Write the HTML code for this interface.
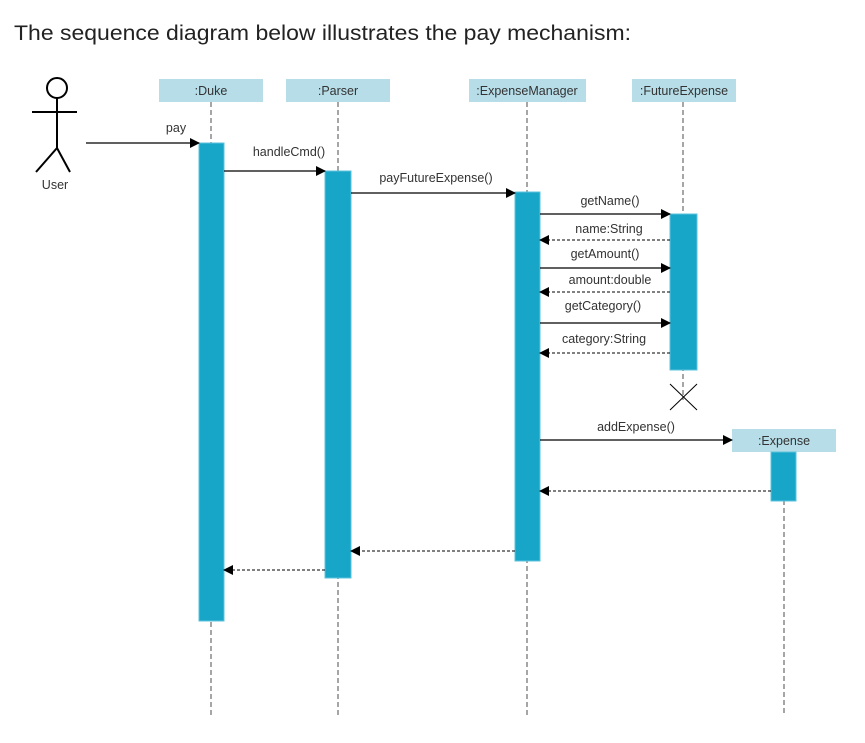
<!DOCTYPE html>
<html><head><meta charset="utf-8"><style>
html,body{margin:0;padding:0;background:#fff;width:865px;height:743px;overflow:hidden}
</style></head><body>
<svg width="865" height="743" xmlns="http://www.w3.org/2000/svg" font-family="Liberation Sans, sans-serif">
<defs>
<marker id="a" markerWidth="10" markerHeight="10" refX="9" refY="5" orient="auto" markerUnits="userSpaceOnUse"><path d="M0,0 L10,5 L0,10 z" fill="#000"/></marker>
</defs>
<text x="14" y="40" font-size="21" fill="#222" textLength="617" lengthAdjust="spacingAndGlyphs">The sequence diagram below illustrates the pay mechanism:</text>
<g stroke="#000" stroke-width="2" fill="none">
<circle cx="57" cy="88" r="10"/>
<line x1="57" y1="98" x2="57" y2="148"/>
<line x1="32" y1="112" x2="77" y2="112"/>
<line x1="57" y1="148" x2="36" y2="172"/>
<line x1="57" y1="148" x2="70" y2="172"/>
</g>
<text x="55" y="189" font-size="12.5" fill="#333" text-anchor="middle">User</text>
<g stroke="#888" stroke-width="1.5" stroke-dasharray="5,3">
<line x1="211" y1="102" x2="211" y2="716"/>
<line x1="338" y1="102" x2="338" y2="716"/>
<line x1="527" y1="102" x2="527" y2="716"/>
<line x1="683" y1="102" x2="683" y2="400"/>
<line x1="784" y1="452" x2="784" y2="716"/>
</g>
<g fill="#b6dde8">
<rect x="159" y="79" width="104" height="23"/>
<rect x="286" y="79" width="104" height="23"/>
<rect x="469" y="79" width="117" height="23"/>
<rect x="632" y="79" width="104" height="23"/>
<rect x="732" y="429" width="104" height="23"/>
</g>
<g font-size="12.5" fill="#333" text-anchor="middle">
<text x="211" y="95">:Duke</text>
<text x="338" y="95">:Parser</text>
<text x="527" y="95">:ExpenseManager</text>
<text x="684" y="95">:FutureExpense</text>
<text x="784" y="445">:Expense</text>
</g>
<g fill="#17a5c8" stroke="#5cc3dc" stroke-width="1">
<rect x="199" y="143" width="25" height="478"/>
<rect x="325" y="171" width="26" height="407"/>
<rect x="515" y="192" width="25" height="369"/>
<rect x="670" y="214" width="27" height="156"/>
<rect x="771" y="452" width="25" height="49"/>
</g>
<g stroke="#000" stroke-width="1"><line x1="670" y1="384" x2="697" y2="410"/><line x1="697" y1="384" x2="670" y2="410"/></g>
<g stroke="#000" stroke-width="1.2" marker-end="url(#a)">
<line x1="86" y1="143" x2="199" y2="143"/>
<line x1="224" y1="171" x2="325" y2="171"/>
<line x1="351" y1="193" x2="515" y2="193"/>
<line x1="540" y1="214" x2="670" y2="214"/>
<line x1="540" y1="268" x2="670" y2="268"/>
<line x1="540" y1="323" x2="670" y2="323"/>
<line x1="540" y1="440" x2="732" y2="440"/>
</g>
<g stroke="#000" stroke-width="1" stroke-dasharray="3,2" marker-end="url(#a)">
<line x1="670" y1="240" x2="540" y2="240"/>
<line x1="670" y1="292" x2="540" y2="292"/>
<line x1="670" y1="353" x2="540" y2="353"/>
<line x1="771" y1="491" x2="540" y2="491"/>
<line x1="515" y1="551" x2="351" y2="551"/>
<line x1="325" y1="570" x2="224" y2="570"/>
</g>
<g font-size="12.5" fill="#333" text-anchor="middle">
<text x="176" y="132">pay</text>
<text x="289" y="156">handleCmd()</text>
<text x="436" y="182">payFutureExpense()</text>
<text x="610" y="205">getName()</text>
<text x="609" y="233">name:String</text>
<text x="605" y="258">getAmount()</text>
<text x="610" y="284">amount:double</text>
<text x="603" y="310">getCategory()</text>
<text x="604" y="343">category:String</text>
<text x="636" y="431">addExpense()</text>
</g>
</svg>
</body></html>
